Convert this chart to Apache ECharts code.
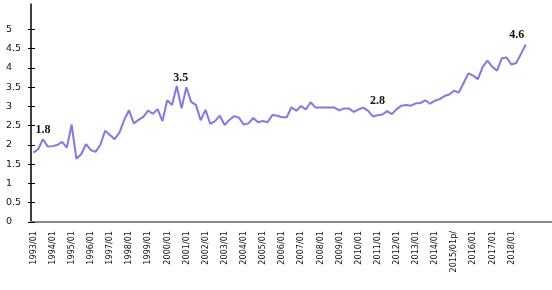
<!DOCTYPE html>
<html><head><meta charset="utf-8">
<script src="https://cdn.jsdelivr.net/npm/echarts@6/dist/echarts.min.js"></script>
<style>html,body{margin:0;padding:0;background:#fff}#c{width:552px;height:290px}</style>
</head><body><div id="c"></div>
<script>
// Year tick labels (one per year, first quarter)
const yearLabels = ['1993/01','1994/01','1995/01','1996/01','1997/01','1998/01','1999/01','2000/01','2001/01','2002/01','2003/01','2004/01','2005/01','2006/01','2007/01','2008/01','2009/01','2010/01','2011/01','2012/01','2013/01','2014/01','2015/01p/','2016/01','2017/01','2018/01'];
// Quarterly values, 1993Q1 .. 2018Q4
const values = [
 1.80,1.89,2.15,1.96, 1.97,2.00,2.08,1.93, 2.53,1.64,1.76,2.02, 1.87,1.82,2.00,2.37,
 2.26,2.15,2.32,2.65, 2.90,2.56,2.65,2.73, 2.89,2.81,2.93,2.62, 3.16,3.04,3.53,2.95,
 3.50,3.12,3.04,2.64, 2.91,2.55,2.62,2.76, 2.52,2.65,2.75,2.71, 2.53,2.56,2.70,2.59,
 2.62,2.59,2.78,2.76, 2.72,2.72,2.98,2.89, 3.01,2.92,3.11,2.97, 2.97,2.97,2.97,2.97,
 2.90,2.95,2.95,2.86, 2.92,2.97,2.89,2.74, 2.77,2.79,2.88,2.80, 2.93,3.02,3.04,3.02,
 3.08,3.09,3.16,3.07, 3.15,3.19,3.27,3.31, 3.41,3.36,3.61,3.86, 3.80,3.71,4.03,4.19,
 4.03,3.93,4.25,4.27, 4.09,4.13,4.36,4.61
];
// Annotated points
const annotationIndex = [2, 30, 72, 103];
const annotationText = ['1.8', '3.5', '2.8', '4.6'];
// Y tick values
const yTicks = [0, 0.5, 1, 1.5, 2, 2.5, 3, 3.5, 4, 4.5, 5];
const trailingBlankCategories = 5;

// build categories
const categories = [];
yearLabels.forEach(function (y) {
  categories.push(y);
  for (let q = 1; q < 4; q++) categories.push(y + '#' + q);
});
for (let k = 0; k < trailingBlankCategories; k++) categories.push('blank' + k);

const annStyle = [
  {distance: 3, offset: [0, 0]},
  {distance: 2, offset: [4, 0]},
  {distance: 8, offset: [0, 0]},
  {distance: 4, offset: [-9, 0]}
];

const seriesData = values.map(function (v, i) {
  const a = annotationIndex.indexOf(i);
  if (a < 0) return v;
  return {
    value: v,
    label: {
      show: true, position: 'top', distance: annStyle[a].distance, offset: annStyle[a].offset,
      formatter: annotationText[a], fontFamily: 'Liberation Serif', fontSize: 12, fontWeight: 'bold', color: '#111'
    }
  };
});

const chart = echarts.init(document.getElementById('c'), null, {renderer: 'canvas'});
chart.setOption({
  animation: false,
  backgroundColor: '#fff',
  grid: {left: 31, right: 0, top: 4, bottom: 68, containLabel: false, outerBoundsMode: 'none'},
  xAxis: {
    type: 'category', data: categories, boundaryGap: true,
    axisLine: {lineStyle: {color: '#8a8a8a', width: 2}},
    axisTick: {show: false},
    splitLine: {show: false},
    axisLabel: {
      interval: function (i) { return i % 4 === 0 && i < values.length; },
      rotate: 90, margin: 9,
      fontFamily: "'DejaVu Sans Condensed','DejaVu Sans'", fontSize: 9, color: '#111'
    }
  },
  yAxis: [{
    type: 'value', min: 0, max: 5.66, position: 'left',
    splitLine: {show: false},
    axisLine: {show: true, lineStyle: {color: '#000', width: 1.5}},
    axisTick: {show: true, length: 3, customValues: yTicks, lineStyle: {color: '#000', width: 1}},
    axisLabel: {
      customValues: yTicks, align: 'left', margin: 25,
      fontFamily: 'DejaVu Sans', fontSize: 9.5, color: '#111',
      formatter: function (v) { return String(v); }
    }
  }, {
    type: 'value', min: 0, max: 5.66, position: 'left', offset: 0,
    splitLine: {show: false}, axisLine: {show: false}, axisLabel: {show: false},
    axisTick: {show: true, inside: true, length: 4, customValues: yTicks, lineStyle: {color: '#000', width: 1}}
  }],
  series: [{
    type: 'line', data: seriesData, yAxisIndex: 0,
    symbol: 'circle', symbolSize: 0, showSymbol: true, showAllSymbol: true,
    lineStyle: {color: '#7f77fb', width: 2},
    itemStyle: {color: '#7f77fb'},
    emphasis: {disabled: true}
  }]
});
</script>
</body></html>
